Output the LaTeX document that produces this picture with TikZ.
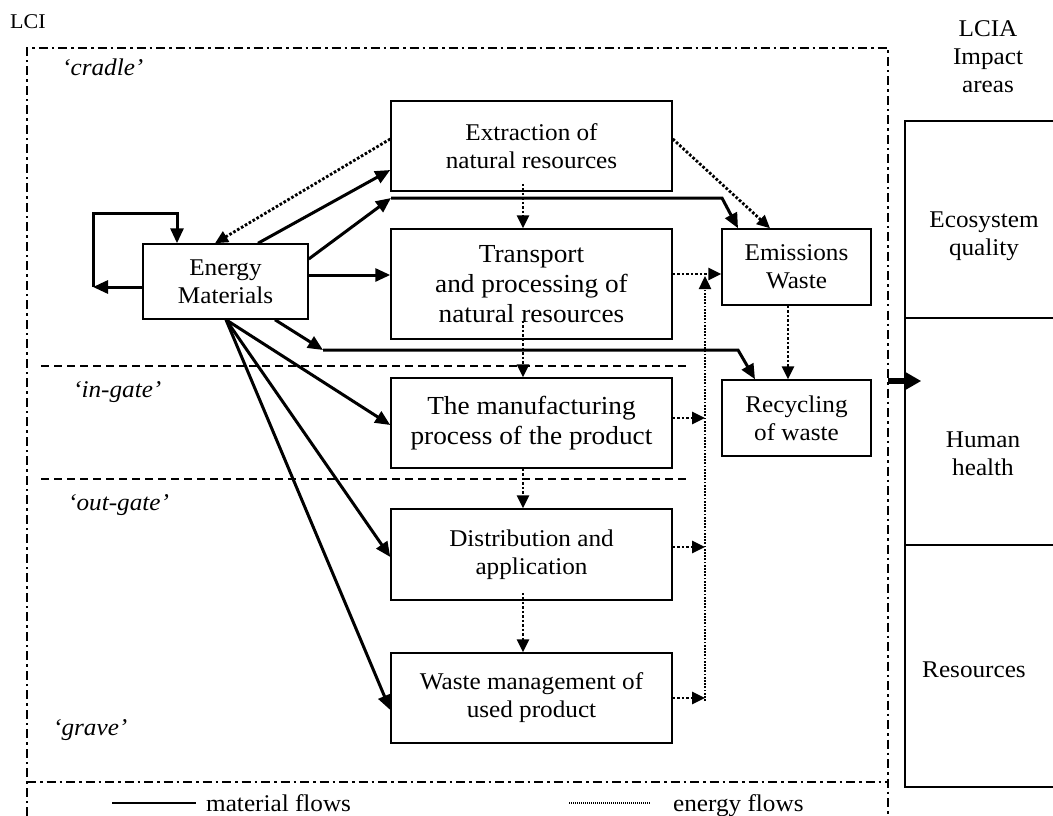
\documentclass[tikz,border=0pt]{standalone}
\usepackage{fontspec}
\setmainfont[FakeStretch=1.05]{Liberation Serif}
\usetikzlibrary{arrows.meta}
\newcommand\myN{\fontsize{24}{28}\selectfont}
\newcommand\myB{\fontsize{26}{30}\selectfont}
\newcommand\myS{\fontsize{21}{25}\selectfont}
\begin{document}
\begin{tikzpicture}[x=1pt,y=-1pt,
  box/.style={draw, line width=1.5pt, inner sep=0pt, align=center, font=\myN},
  area/.style={draw, line width=1.5pt, inner sep=0pt, minimum width=158pt},
  lbl/.style={inner sep=0pt, align=center, font=\myN},
  itl/.style={inner sep=0pt, font=\myN\itshape, anchor=base west},
  mat/.style={line width=3pt},
  en/.style={line width=2.8pt, dash pattern=on 2.6pt off 1.9pt},
  en2/.style={line width=2.4pt, dash pattern=on 1.8pt off 1.4pt},
  tipm/.style={-{Triangle[length=15pt,width=13pt]}},
  tipe/.style={-{Triangle[length=13pt,width=12pt]}},
  frame/.style={line width=2.8pt, dash pattern=on 9pt off 4pt on 2.5pt off 4pt}]
\useasboundingbox (0,0) rectangle (1053,816);

% frame
\draw[frame] (27,816) -- (27,48) -- (888,48) -- (888,816);
\draw[frame] (27,782) -- (888,782);

% stage separators
\draw[line width=2pt, dash pattern=on 8pt off 5pt] (41,366) -- (690,366);
\draw[line width=2pt, dash pattern=on 8pt off 5pt] (41,479) -- (690,479);

% labels
\node[inner sep=0pt, font=\myS, anchor=base west] (lci) at (10,29) {LCI};
\node[itl] (cradle) at (62,76) {‘cradle’};
\node[itl] (ingate) at (73,397) {‘in-gate’};
\node[itl] (outgate) at (68,510) {‘out-gate’};
\node[itl] (grave) at (53,735) {‘grave’};

% boxes
\node[box, minimum width=281pt, minimum height=90pt] (ext) at (531.5,146) {Extraction of\\natural resources};
\node[box, font=\myB, minimum width=281pt, minimum height=110pt] (tra) at (531.5,284) {Transport\\and processing of\\natural resources};
\node[box, font=\myB, minimum width=281pt, minimum height=90pt] (man) at (531.5,423) {The manufacturing\\process of the product};
\node[box, minimum width=281pt, minimum height=91pt] (dis) at (531.5,554.5) {Distribution and\\application};
\node[box, minimum width=281pt, minimum height=90pt] (wst) at (531.5,698) {Waste management of\\used product};
\node[box, minimum width=165pt, minimum height=75pt] (ene) at (225.5,281.5) {Energy\\Materials};
\node[box, minimum width=149pt, minimum height=76pt] (emi) at (796.5,267) {Emissions\\Waste};
\node[box, minimum width=149pt, minimum height=76pt] (rec) at (796.5,418) {Recycling\\of waste};

% impact areas
\node[area, minimum height=197pt] (eco) at (984,219.5) {};
\node[area, minimum height=227pt] (hum) at (984,431.5) {};
\node[area, minimum height=242pt] (res) at (984,666) {};
\node[lbl] (lcia) at (988,57) {LCIA\\Impact\\areas};
\node[lbl] (ecot) at (984,236) {Ecosystem\\quality};
\node[lbl] (humt) at (983,454) {Human\\health};
\node[lbl] (rest) at (974,670) {Resources};

% self loop
\coordinate (lpA) at (93,287);
\coordinate (lpB) at (93,213);
\coordinate (lpC) at (177,213);
\draw[mat,tipm] (ene.west |- lpA) -- (lpA);
\draw[mat,tipm] (lpA) -- (lpB) -- (lpC) -- (lpC |- ene.north);

% energy <-> extraction
\draw[en,tipe] (ext.west |- 0,139) -- (ene.north -| 215,0);
\draw[mat,tipm] (ene.north -| 258,0) -- (ext.west |- 0,170);

% energy -> emissions (via line)
\coordinate (hA1) at (391,198);
\coordinate (hA2) at (722,198);
\draw[mat,tipm] (ene.east |- 0,259) -- (hA1);
\draw[mat,tipm] (hA1) -- (hA2) -- (emi.north -| 738,0);

% energy -> transport
\draw[mat,tipm] (ene.east |- 0,275) -- (tra.west |- 0,275);

% energy -> recycling (via line)
\coordinate (hB1) at (323,350);
\coordinate (hB2) at (738,350);
\draw[mat,tipm] (ene.south -| 275,0) -- (hB1);
\draw[mat,tipm] (hB1) -- (hB2) -- (rec.north -| 755,0);

% energy -> lower stages
\draw[mat,tipm] (ene.south -| 226,0) -- (man.west |- 0,425);
\draw[mat,tipm] (ene.south -| 226,0) -- (dis.west |- 0,557);
\draw[mat,tipm] (ene.south -| 226,0) -- (wst.west |- 0,710);

% energy flows down the chain
\draw[en,tipe] (ext.south -| 523,0) ++(0,-8) -- (tra.north -| 523,0);
\draw[en,tipe] (tra.south -| 523,0) ++(0,-19) -- (man.north -| 523,0);
\draw[en,tipe] (man.south -| 523,0) -- (dis.north -| 523,0);
\draw[en,tipe] (dis.south -| 523,0) ++(0,-8) -- (wst.north -| 523,0);

% to emissions
\draw[en,tipe] (emi.south -| 788,0) -- (rec.north -| 788,0);
\draw[en,tipe] (tra.east |- 0,274) -- (emi.west |- 0,274);
\draw[en,tipe] (ext.east |- 0,139) -- (emi.north -| 770,0);

\coordinate (vb1) at (705,418);
\coordinate (vb2) at (705,547);
\coordinate (vb3) at (705,698);
\coordinate (vtop) at (705,276);
\draw[en,tipe] (man.east |- vb1) -- (vb1);
\draw[en,tipe] (dis.east |- vb2) -- (vb2);
\draw[en,tipe] (wst.east |- vb3) -- (vb3);
\draw[en2,tipe] (705,701) -- (vtop);

% to impact areas
\coordinate (fr) at (888,381);
\draw[line width=5.5pt,-{Triangle[length=17pt,width=18pt]}] (fr) -- (hum.west |- fr) -- ++(17,0);

% legend
\draw[line width=1.2pt] (112,803) -- (196,803);
\node[inner sep=0pt, font=\myN, anchor=base west] (lmat) at (206,811) {material flows};
\draw[line width=1.4pt, dash pattern=on 1pt off 1pt] (569,803) -- (650,803);
\node[inner sep=0pt, font=\myN, anchor=base west] (lene) at (673,811) {energy flows};
\end{tikzpicture}
\end{document}
